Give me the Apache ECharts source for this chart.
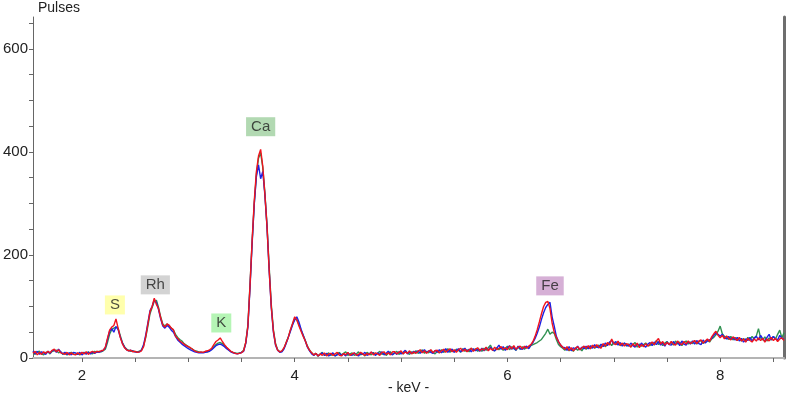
<!DOCTYPE html>
<html>
<head>
<meta charset="utf-8">
<script src="https://cdn.jsdelivr.net/npm/echarts@6/dist/echarts.min.js"></script>
<style>
  html, body { margin: 0; padding: 0; background: #fff; }
  #spectrum { width: 790px; height: 398px; }
</style>
</head>
<body>
<div id="spectrum"></div>
<script>
// channel energies (keV)
const kev = [
  1.54,1.56,1.58,1.60,1.62,1.64,1.66,1.68,1.70,1.72,
  1.74,1.76,1.78,1.80,1.82,1.84,1.86,1.88,1.90,1.92,
  1.94,1.96,1.98,2.00,2.02,2.04,2.06,2.08,2.10,2.12,
  2.14,2.16,2.18,2.20,2.22,2.24,2.26,2.28,2.30,2.32,
  2.34,2.36,2.38,2.40,2.42,2.44,2.46,2.48,2.50,2.52,
  2.54,2.56,2.58,2.60,2.62,2.64,2.66,2.68,2.70,2.72,
  2.74,2.76,2.78,2.80,2.82,2.84,2.86,2.88,2.90,2.92,
  2.94,2.96,2.98,3.00,3.02,3.04,3.06,3.08,3.10,3.12,
  3.14,3.16,3.18,3.20,3.22,3.24,3.26,3.28,3.30,3.32,
  3.34,3.36,3.38,3.40,3.42,3.44,3.46,3.48,3.50,3.52,
  3.54,3.56,3.58,3.60,3.62,3.64,3.66,3.68,3.70,3.72,
  3.74,3.76,3.78,3.80,3.82,3.84,3.86,3.88,3.90,3.92,
  3.94,3.96,3.98,4.00,4.02,4.04,4.06,4.08,4.10,4.12,
  4.14,4.16,4.18,4.20,4.22,4.24,4.26,4.28,4.30,4.32,
  4.34,4.36,4.38,4.40,4.42,4.44,4.46,4.48,4.50,4.52,
  4.54,4.56,4.58,4.60,4.62,4.64,4.66,4.68,4.70,4.72,
  4.74,4.76,4.78,4.80,4.82,4.84,4.86,4.88,4.90,4.92,
  4.94,4.96,4.98,5.00,5.02,5.04,5.06,5.08,5.10,5.12,
  5.14,5.16,5.18,5.20,5.22,5.24,5.26,5.28,5.30,5.32,
  5.34,5.36,5.38,5.40,5.42,5.44,5.46,5.48,5.50,5.52,
  5.54,5.56,5.58,5.60,5.62,5.64,5.66,5.68,5.70,5.72,
  5.74,5.76,5.78,5.80,5.82,5.84,5.86,5.88,5.90,5.92,
  5.94,5.96,5.98,6.00,6.02,6.04,6.06,6.08,6.10,6.12,
  6.14,6.16,6.18,6.20,6.22,6.24,6.26,6.28,6.30,6.32,
  6.34,6.36,6.38,6.40,6.42,6.44,6.46,6.48,6.50,6.52,
  6.54,6.56,6.58,6.60,6.62,6.64,6.66,6.68,6.70,6.72,
  6.74,6.76,6.78,6.80,6.82,6.84,6.86,6.88,6.90,6.92,
  6.94,6.96,6.98,7.00,7.02,7.04,7.06,7.08,7.10,7.12,
  7.14,7.16,7.18,7.20,7.22,7.24,7.26,7.28,7.30,7.32,
  7.34,7.36,7.38,7.40,7.42,7.44,7.46,7.48,7.50,7.52,
  7.54,7.56,7.58,7.60,7.62,7.64,7.66,7.68,7.70,7.72,
  7.74,7.76,7.78,7.80,7.82,7.84,7.86,7.88,7.90,7.92,
  7.94,7.96,7.98,8.00,8.02,8.04,8.06,8.08,8.10,8.12,
  8.14,8.16,8.18,8.20,8.22,8.24,8.26,8.28,8.30,8.32,
  8.34,8.36,8.38,8.40,8.42,8.44,8.46,8.48,8.50,8.52,
  8.54,8.56,8.58,8.60
];

// pulses per channel, three measurements
const pulsesGreen = [
  11,7,12,13,8,6,11,12,8,13,
  14,15,10,12,7,10,6,9,11,8,
  7,9,6,10,11,8,12,9,8,13,
  11,13,12,14,17,30,46,55,58,60,
  58,44,30,22,17,15,13,14,12,12,
  13,16,24,40,62,86,98,110,112,98,
  80,66,62,66,62,58,54,46,40,36,
  33,28,25,22,19,17,14,13,12,11,
  11,12,12,14,17,22,26,29,30,28,
  24,20,16,13,11,10,9,10,11,15,
  30,64,142,226,300,356,388,398,370,320,
  258,178,104,55,28,16,12,13,19,30,
  41,54,66,76,74,65,54,44,34,23,
  15,10,6,9,4,8,11,5,7,10,
  5,9,4,8,11,6,9,12,5,8,
  10,5,8,12,6,9,4,11,8,6,
  11,6,9,13,7,10,5,9,12,7,
  9,13,7,11,8,14,10,7,12,9,
  14,9,12,16,9,13,10,15,11,8,
  13,10,16,11,14,18,11,15,12,17,
  15,11,18,13,16,12,19,14,18,13,
  17,13,19,15,20,25,16,14,20,16,
  21,15,19,23,16,22,18,15,21,17,
  22,17,21,19,24,26,28,30,33,36,
  42,48,56,46,50,48,36,26,22,19,
  15,19,14,18,13,20,15,19,14,21,
  17,22,18,24,19,22,25,20,27,22,
  26,30,24,31,26,30,24,27,29,23,
  27,22,26,30,21,27,23,26,29,24,
  24,30,25,34,26,31,24,29,32,26,
  31,25,33,27,31,24,30,33,27,31,
  28,33,27,31,34,28,32,35,31,37,
  40,45,52,62,47,42,39,36,42,35,
  40,34,39,33,38,32,40,35,42,37,
  43,57,39,35,41,33,39,35,42,37,
  46,54,39,49
];

const pulsesBlue = [
  14,8,13,7,12,10,7,13,9,14,
  16,11,17,12,8,11,7,10,6,11,
  10,7,11,6,10,8,11,8,12,9,
  12,11,13,15,20,36,52,57,50,61,
  55,41,29,21,16,14,15,13,12,11,
  12,15,26,45,68,92,100,113,108,94,
  76,62,58,63,60,54,50,42,35,31,
  27,24,21,18,16,14,12,11,10,10,
  10,11,12,13,16,20,24,26,27,25,
  22,18,15,12,10,9,8,9,11,13,
  28,60,136,222,298,352,375,348,362,316,
  254,170,98,50,25,15,11,12,18,28,
  40,52,64,74,80,70,56,44,33,21,
  14,8,5,9,4,7,10,5,9,4,
  7,10,4,6,9,5,8,4,10,6,
  5,10,6,4,9,7,11,5,8,11,
  9,5,10,7,12,6,9,13,8,6,
  11,7,12,8,11,15,8,12,9,13,
  10,14,9,13,16,10,14,11,9,15,
  11,16,10,14,18,11,15,17,11,15,
  18,12,16,19,13,17,12,18,14,17,
  13,19,14,20,15,21,16,14,19,25,
  17,22,15,20,24,17,21,15,23,18,
  17,21,23,18,25,30,38,48,60,75,
  88,98,104,108,80,62,42,32,25,21,
  20,15,22,14,20,17,23,16,21,18,
  23,18,24,19,26,21,20,27,22,29,
  24,31,34,27,32,25,30,23,29,25,
  23,29,24,21,28,23,29,24,21,27,
  30,24,31,26,32,25,30,23,31,26,
  25,32,26,31,24,33,27,25,32,27,
  33,27,34,28,26,35,29,33,35,38,
  44,48,46,42,46,39,37,42,36,40,
  35,40,33,38,31,37,34,40,33,39,
  42,35,44,37,33,40,46,35,42,37,
  35,44,38,36
];

const pulsesRed = [
  9,13,6,11,7,12,9,13,10,15,
  17,12,16,10,9,7,11,6,10,7,
  6,10,7,11,8,12,7,11,13,10,
  13,12,14,15,21,38,54,60,63,76,
  58,40,28,20,16,14,15,12,13,11,
  12,14,22,42,66,90,100,116,104,96,
  78,64,60,66,64,58,55,42,38,33,
  30,27,24,22,20,17,14,12,11,12,
  11,13,14,16,19,26,32,35,39,32,
  26,21,17,13,11,9,8,9,10,14,
  30,62,140,228,305,362,392,405,372,318,
  255,172,100,52,26,15,12,14,20,30,
  40,55,67,80,74,62,52,42,33,22,
  15,10,6,9,4,8,5,10,4,8,
  9,5,8,11,5,4,9,6,11,5,
  8,10,5,7,11,8,5,9,6,12,
  6,10,8,5,11,12,7,10,6,12,
  12,8,11,14,8,12,9,14,8,12,
  9,13,16,10,14,9,13,16,10,14,
  15,10,14,17,11,15,18,12,16,11,
  16,19,13,17,12,16,19,13,17,20,
  14,18,15,21,14,19,15,21,16,19,
  22,17,20,16,23,18,24,17,21,23,
  18,23,19,23,26,32,42,55,70,86,
  100,108,110,96,68,50,40,32,25,21,
  17,22,15,20,14,19,22,16,20,23,
  19,24,18,25,20,26,21,19,28,23,
  30,25,37,28,26,33,25,29,23,28,
  26,21,28,23,29,20,26,22,28,23,
  27,31,26,33,38,27,32,25,30,26,
  32,27,25,33,28,26,32,27,33,28,
  31,34,28,33,35,29,33,37,32,41,
  47,52,44,39,44,37,43,38,35,41,
  38,34,40,33,37,31,38,34,31,37,
  33,39,34,38,31,37,33,40,34,38,
  32,37,39,34
];

// element tags: [keV, pulses level of the tag]
const peakNames = ['S', 'Rh', 'K', 'Ca', 'Fe'];
const peakKev = [2.31, 2.69, 3.31, 3.68, 6.40];
const peakTagLevel = [103, 142, 68, 449, 140];
const peakColors = ['#ffff99', '#c8c8c8', '#a2f2a2', '#9fcf9f', '#cc9ccc'];

const xLabels = [2, 4, 6, 8];
const xTicks = [2, 2.5, 3, 3.5, 4, 4.5, 5, 5.5, 6, 6.5, 7, 7.5, 8, 8.5];
const yLabels = [0, 200, 400, 600];
const yTicks = [0, 50, 100, 150, 200, 250, 300, 350, 400, 450, 500, 550, 600, 650];

const pair = (ys) => kev.map((x, i) => [x, ys[i]]);

const lineSeries = (name, ys, color) => ({
  name: name,
  type: 'line',
  data: pair(ys),
  showSymbol: false,
  silent: true,
  lineStyle: { color: color, width: 1.4 },
  z: 2
});

const chart = echarts.init(document.getElementById('spectrum'));
chart.setOption({
  animation: false,
  textStyle: { fontFamily: 'Liberation Sans, Arial, sans-serif' },
  grid: { left: 33, top: 17, right: 6, bottom: 40, containLabel: false, outerBoundsMode: 'none' },
  xAxis: [
    {
      type: 'value',
      min: 1.54,
      max: 8.6,
      name: '- keV -',
      nameLocation: 'middle',
      nameGap: 23,
      nameMoveOverlap: false,
      nameTextStyle: { color: '#222', fontSize: 14 },
      axisLine: { lineStyle: { color: '#666', width: 1 } },
      axisTick: { customValues: xTicks, length: 4, lineStyle: { color: '#666' } },
      axisLabel: { customValues: xLabels, color: '#222', fontSize: 15, margin: 10 },
      splitLine: { show: false }
    },
    {
      type: 'value',
      position: 'top',
      axisLine: { show: true, lineStyle: { color: '#b4b4b4', width: 2 } },
      axisTick: { show: false },
      axisLabel: { show: false },
      splitLine: { show: false }
    }
  ],
  yAxis: [
    {
      type: 'value',
      min: 0,
      max: 662,
      name: 'Pulses',
      nameLocation: 'end',
      nameGap: 2,
      nameTextStyle: { color: '#222', fontSize: 14, align: 'left', padding: [0, 0, 0, 5] },
      axisLine: { show: true, lineStyle: { color: '#666', width: 1 } },
      axisTick: { show: true, customValues: yTicks, length: 4, lineStyle: { color: '#666' } },
      axisLabel: { customValues: yLabels, color: '#222', fontSize: 15, margin: 5 },
      splitLine: { show: false }
    },
    {
      type: 'value',
      position: 'right',
      axisLine: { show: true, lineStyle: { color: '#6e6e6e', width: 3 } },
      axisTick: { show: false },
      axisLabel: { show: false },
      splitLine: { show: false }
    }
  ],
  series: [
    lineSeries('green', pulsesGreen, '#2f9150'),
    lineSeries('blue', pulsesBlue, '#1c22e6'),
    lineSeries('red', pulsesRed, '#f0141e'),
    {
      type: 'scatter',
      silent: true,
      symbolSize: 1,
      itemStyle: { color: 'rgba(0,0,0,0)' },
      z: 5,
      data: peakNames.map((n, i) => ({
        value: [peakKev[i], peakTagLevel[i]],
        label: { backgroundColor: peakColors[i] }
      })),
      label: {
        show: true,
        position: 'inside',
        formatter: (p) => peakNames[p.dataIndex],
        color: '#222',
        fontSize: 15,
        lineHeight: 16,
        padding: [2, 5, 1, 5]
      }
    }
  ]
});
</script>
</body>
</html>
